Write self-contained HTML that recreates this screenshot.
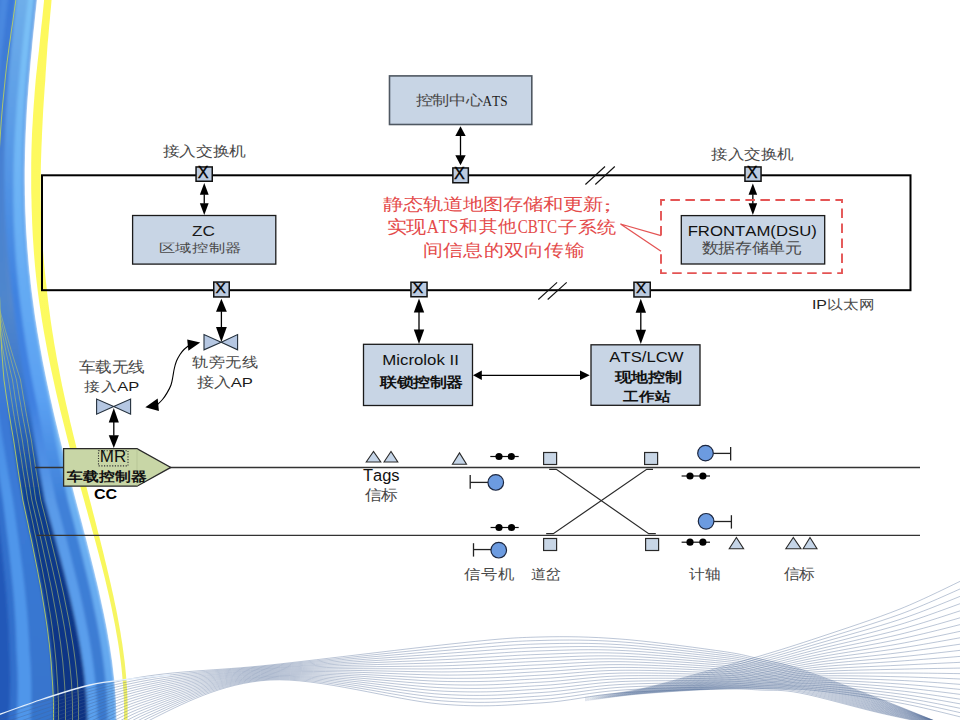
<!DOCTYPE html>
<html><head><meta charset="utf-8"><title>CBTC</title>
<style>
html,body{margin:0;padding:0;background:#fff;width:960px;height:720px;overflow:hidden}
svg{display:block}
.ss{font-family:"Liberation Sans",sans-serif}
.ssb{font-family:"Liberation Sans",sans-serif;font-weight:bold}
.sf{font-family:"Liberation Serif",serif;font-weight:300}
.lsf{font-family:"Liberation Serif",serif;font-weight:normal}
.sfb{font-family:"Liberation Serif",serif;font-weight:bold}
</style></head><body>
<svg width="960" height="720" viewBox="0 0 960 720">
<g><defs><linearGradient id="g0" gradientUnits="userSpaceOnUse" x1="0" y1="0" x2="0" y2="720"><stop offset="0.000" stop-color="#5896e2"/><stop offset="0.417" stop-color="#62a8f2"/><stop offset="0.694" stop-color="#6cb0f2"/><stop offset="1.000" stop-color="#62a6ee"/></linearGradient><linearGradient id="g1" gradientUnits="userSpaceOnUse" x1="0" y1="0" x2="0" y2="720"><stop offset="0.000" stop-color="#7cc2f6"/><stop offset="0.347" stop-color="#68aef4"/><stop offset="0.556" stop-color="#5aa0f2"/><stop offset="0.694" stop-color="#3f80d8"/><stop offset="1.000" stop-color="#3a7ad0"/></linearGradient><linearGradient id="g2" gradientUnits="userSpaceOnUse" x1="0" y1="0" x2="0" y2="720"><stop offset="0.000" stop-color="#6eaeea"/><stop offset="0.417" stop-color="#3f82e0"/><stop offset="0.556" stop-color="#3f80e0"/><stop offset="0.694" stop-color="#5a9ae8"/><stop offset="1.000" stop-color="#5aa0ee"/></linearGradient><linearGradient id="g3" gradientUnits="userSpaceOnUse" x1="0" y1="0" x2="0" y2="720"><stop offset="0.000" stop-color="#3a78d8"/><stop offset="0.417" stop-color="#5488cc"/><stop offset="0.556" stop-color="#3674cc"/><stop offset="0.694" stop-color="#0c3c8c"/><stop offset="1.000" stop-color="#0a3282"/></linearGradient><linearGradient id="g4" gradientUnits="userSpaceOnUse" x1="0" y1="0" x2="0" y2="720"><stop offset="0.000" stop-color="#3a78d8"/><stop offset="0.417" stop-color="#4f86cc"/><stop offset="0.569" stop-color="#3a78d6"/><stop offset="0.694" stop-color="#3a7ad6"/><stop offset="1.000" stop-color="#3674cc"/></linearGradient><linearGradient id="g5" gradientUnits="userSpaceOnUse" x1="0" y1="0" x2="0" y2="720"><stop offset="0.000" stop-color="#4a88e0"/><stop offset="0.417" stop-color="#4a88d8"/><stop offset="0.569" stop-color="#4a8ee4"/><stop offset="0.694" stop-color="#5096ea"/><stop offset="1.000" stop-color="#5096ea"/></linearGradient><linearGradient id="g6" gradientUnits="userSpaceOnUse" x1="0" y1="0" x2="0" y2="720"><stop offset="0.000" stop-color="#3f7ed8"/><stop offset="0.417" stop-color="#3f7ed8"/><stop offset="0.694" stop-color="#3370cc"/><stop offset="1.000" stop-color="#3370cc"/></linearGradient><linearGradient id="g7" gradientUnits="userSpaceOnUse" x1="0" y1="0" x2="0" y2="720"><stop offset="0.000" stop-color="#2f6ecc"/><stop offset="0.694" stop-color="#2458b8"/><stop offset="1.000" stop-color="#2458b8"/></linearGradient><linearGradient id="gy" gradientUnits="userSpaceOnUse" x1="0" y1="0" x2="0" y2="720"><stop offset="0" stop-color="#fdf85c"/><stop offset="0.4" stop-color="#fdfb62"/><stop offset="0.75" stop-color="#f9f85a"/><stop offset="1" stop-color="#f2f26a"/></linearGradient><clipPath id="bandclip"><path d="M-50.0,-10.0 L38.0,-10.0 L37.3,-4.0 L36.7,2.0 L36.1,8.0 L35.4,14.0 L34.8,20.0 L34.2,26.0 L33.5,32.0 L32.9,38.0 L32.3,44.0 L31.8,50.0 L31.2,56.0 L30.6,62.0 L30.1,68.0 L29.6,74.0 L29.1,80.0 L28.6,86.0 L28.2,92.0 L27.7,98.0 L27.3,104.0 L26.9,110.0 L26.6,116.0 L26.3,122.0 L26.0,128.0 L25.7,134.0 L25.5,140.0 L25.3,146.0 L25.1,152.0 L25.0,158.0 L24.9,164.0 L24.8,170.0 L24.8,176.0 L24.8,182.0 L24.9,188.0 L24.9,194.0 L25.1,200.0 L25.2,206.0 L25.4,212.0 L25.7,218.0 L25.9,224.0 L26.2,230.0 L26.6,236.0 L27.0,242.0 L27.4,248.0 L27.9,254.0 L28.4,260.0 L28.9,266.0 L29.5,272.0 L30.2,278.0 L30.8,284.0 L31.5,290.0 L32.3,296.0 L33.1,302.0 L33.9,308.0 L34.7,314.0 L35.6,320.0 L36.6,326.0 L37.5,332.0 L38.6,338.0 L39.6,344.0 L40.7,350.0 L41.8,356.0 L42.9,362.0 L44.1,368.0 L45.3,374.0 L46.5,380.0 L47.8,386.0 L49.1,392.0 L50.4,398.0 L51.8,404.0 L53.1,410.0 L54.5,416.0 L55.9,422.0 L57.4,428.0 L58.8,434.0 L60.3,440.0 L61.8,446.0 L63.3,452.0 L64.9,458.0 L66.4,464.0 L67.9,470.0 L69.5,476.0 L71.1,482.0 L72.7,488.0 L74.2,494.0 L75.8,500.0 L77.4,506.0 L79.0,512.0 L80.6,518.0 L82.2,524.0 L83.7,530.0 L85.3,536.0 L86.9,542.0 L88.4,548.0 L89.9,554.0 L91.4,560.0 L92.9,566.0 L94.4,572.0 L95.8,578.0 L97.3,584.0 L98.7,590.0 L100.0,596.0 L101.3,602.0 L102.6,608.0 L103.9,614.0 L105.1,620.0 L106.3,626.0 L107.4,632.0 L108.4,638.0 L109.5,644.0 L110.4,650.0 L111.3,656.0 L112.2,662.0 L112.9,668.0 L113.6,674.0 L114.3,680.0 L114.8,686.0 L115.3,692.0 L115.7,698.0 L116.1,704.0 L116.3,710.0 L116.4,716.0 L116.5,722.0 L116.4,728.0 L-50.0,730.0Z"/></clipPath><filter id="ysoft" x="-0.5" y="-0.01" width="2" height="1.02"><feGaussianBlur stdDeviation="0.6"/></filter><filter id="soft" x="-0.2" y="-0.05" width="1.4" height="1.1"><feGaussianBlur stdDeviation="1.6"/></filter></defs><g clip-path="url(#bandclip)"><g filter="url(#soft)"><path d="M-50.0,-10.0 L38.0,-10.0 L37.3,-4.0 L36.7,2.0 L36.1,8.0 L35.4,14.0 L34.8,20.0 L34.2,26.0 L33.5,32.0 L32.9,38.0 L32.3,44.0 L31.8,50.0 L31.2,56.0 L30.6,62.0 L30.1,68.0 L29.6,74.0 L29.1,80.0 L28.6,86.0 L28.2,92.0 L27.7,98.0 L27.3,104.0 L26.9,110.0 L26.6,116.0 L26.3,122.0 L26.0,128.0 L25.7,134.0 L25.5,140.0 L25.3,146.0 L25.1,152.0 L25.0,158.0 L24.9,164.0 L24.8,170.0 L24.8,176.0 L24.8,182.0 L24.9,188.0 L24.9,194.0 L25.1,200.0 L25.2,206.0 L25.4,212.0 L25.7,218.0 L25.9,224.0 L26.2,230.0 L26.6,236.0 L27.0,242.0 L27.4,248.0 L27.9,254.0 L28.4,260.0 L28.9,266.0 L29.5,272.0 L30.2,278.0 L30.8,284.0 L31.5,290.0 L32.3,296.0 L33.1,302.0 L33.9,308.0 L34.7,314.0 L35.6,320.0 L36.6,326.0 L37.5,332.0 L38.6,338.0 L39.6,344.0 L40.7,350.0 L41.8,356.0 L42.9,362.0 L44.1,368.0 L45.3,374.0 L46.5,380.0 L47.8,386.0 L49.1,392.0 L50.4,398.0 L51.8,404.0 L53.1,410.0 L54.5,416.0 L55.9,422.0 L57.4,428.0 L58.8,434.0 L60.3,440.0 L61.8,446.0 L63.3,452.0 L64.9,458.0 L66.4,464.0 L67.9,470.0 L69.5,476.0 L71.1,482.0 L72.7,488.0 L74.2,494.0 L75.8,500.0 L77.4,506.0 L79.0,512.0 L80.6,518.0 L82.2,524.0 L83.7,530.0 L85.3,536.0 L86.9,542.0 L88.4,548.0 L89.9,554.0 L91.4,560.0 L92.9,566.0 L94.4,572.0 L95.8,578.0 L97.3,584.0 L98.7,590.0 L100.0,596.0 L101.3,602.0 L102.6,608.0 L103.9,614.0 L105.1,620.0 L106.3,626.0 L107.4,632.0 L108.4,638.0 L109.5,644.0 L110.4,650.0 L111.3,656.0 L112.2,662.0 L112.9,668.0 L113.6,674.0 L114.3,680.0 L114.8,686.0 L115.3,692.0 L115.7,698.0 L116.1,704.0 L116.3,710.0 L116.4,716.0 L116.5,722.0 L116.4,728.0 L-50.0,730.0Z" fill="url(#g0)"/><path d="M-50.0,-10.0 L35.0,-10.0 L34.3,-4.0 L33.7,2.0 L33.1,8.0 L32.4,14.0 L31.8,20.0 L31.2,26.0 L30.5,32.0 L29.9,38.0 L29.3,44.0 L28.8,50.0 L28.2,56.0 L27.6,62.0 L27.1,68.0 L26.6,74.0 L26.1,80.0 L25.6,86.0 L25.2,92.0 L24.7,98.0 L24.3,104.0 L23.9,110.0 L23.6,116.0 L23.3,122.0 L23.0,128.0 L22.7,134.0 L22.5,140.0 L22.3,146.0 L22.1,152.0 L22.0,158.0 L21.9,164.0 L21.8,170.0 L21.8,176.0 L21.8,182.0 L21.9,188.0 L21.9,194.0 L22.1,200.0 L22.2,206.0 L22.4,212.0 L22.7,218.0 L22.9,224.0 L23.2,230.0 L23.6,236.0 L24.0,242.0 L24.4,248.0 L24.9,254.0 L25.4,260.0 L25.9,266.0 L26.5,272.0 L27.2,278.0 L27.8,284.0 L28.5,290.0 L29.3,296.0 L30.1,302.0 L30.9,308.0 L31.7,314.0 L32.6,320.0 L33.6,326.0 L34.5,332.0 L35.6,338.0 L36.6,344.0 L37.7,350.0 L38.8,356.0 L39.9,362.0 L41.1,368.0 L42.3,374.0 L43.5,380.0 L44.8,386.0 L46.1,392.0 L47.4,398.0 L48.8,404.0 L50.1,410.0 L51.2,416.0 L52.3,422.0 L53.4,428.0 L54.5,434.0 L55.6,440.0 L56.8,446.0 L58.0,452.0 L59.2,458.0 L60.4,464.0 L61.6,470.0 L62.8,476.0 L64.1,482.0 L65.3,488.0 L66.6,494.0 L67.8,500.0 L69.4,506.0 L70.9,512.0 L72.5,518.0 L74.1,524.0 L75.6,530.0 L77.1,536.0 L78.7,542.0 L80.2,548.0 L81.7,554.0 L83.2,560.0 L84.6,566.0 L86.1,572.0 L87.5,578.0 L88.9,584.0 L90.3,590.0 L91.6,596.0 L92.9,602.0 L94.1,608.0 L95.4,614.0 L96.6,620.0 L97.7,626.0 L98.8,632.0 L99.8,638.0 L100.8,644.0 L101.7,650.0 L102.6,656.0 L103.4,662.0 L104.2,668.0 L104.9,674.0 L105.5,680.0 L106.0,686.0 L106.5,692.0 L106.8,698.0 L107.1,704.0 L107.3,710.0 L107.5,716.0 L107.5,722.0 L107.4,728.0 L-50.0,730.0Z" fill="url(#g1)"/><path d="M-50.0,-10.0 L29.0,-10.0 L28.3,-4.0 L27.7,2.0 L27.0,8.0 L26.2,14.0 L25.5,20.0 L24.8,26.0 L24.1,32.0 L23.4,38.0 L22.8,44.0 L22.1,50.0 L21.4,56.0 L20.8,62.0 L20.2,68.0 L19.6,74.0 L19.0,80.0 L18.5,86.0 L17.9,92.0 L17.4,98.0 L16.9,104.0 L16.5,110.0 L16.1,116.0 L15.7,122.0 L15.3,128.0 L14.9,134.0 L14.6,140.0 L14.3,146.0 L14.1,152.0 L13.9,158.0 L13.7,164.0 L13.6,170.0 L13.5,176.0 L13.4,182.0 L13.4,188.0 L13.4,194.0 L13.4,200.0 L13.5,206.0 L13.6,212.0 L13.7,218.0 L13.9,224.0 L14.2,230.0 L14.4,236.0 L14.8,242.0 L15.1,248.0 L15.5,254.0 L15.9,260.0 L16.4,266.0 L16.9,272.0 L17.5,278.0 L18.0,284.0 L18.7,290.0 L19.3,296.0 L20.0,302.0 L20.7,308.0 L21.5,314.0 L22.3,320.0 L23.1,326.0 L24.0,332.0 L24.9,338.0 L25.8,344.0 L26.8,350.0 L27.8,356.0 L28.8,362.0 L29.9,368.0 L30.9,374.0 L32.1,380.0 L33.2,386.0 L34.4,392.0 L35.6,398.0 L36.9,404.0 L38.1,410.0 L39.2,416.0 L40.3,422.0 L41.4,428.0 L42.5,434.0 L43.6,440.0 L44.8,446.0 L46.0,452.0 L47.2,458.0 L48.4,464.0 L49.6,470.0 L50.8,476.0 L52.1,482.0 L53.3,488.0 L54.6,494.0 L55.8,500.0 L57.4,506.0 L59.1,512.0 L60.7,518.0 L62.3,524.0 L63.9,530.0 L65.5,536.0 L67.1,542.0 L68.6,548.0 L70.2,554.0 L71.7,560.0 L73.2,566.0 L74.7,572.0 L76.2,578.0 L77.7,584.0 L79.1,590.0 L80.5,596.0 L81.8,602.0 L83.1,608.0 L84.4,614.0 L85.6,620.0 L86.8,626.0 L88.0,632.0 L89.1,638.0 L90.1,644.0 L91.1,650.0 L92.0,656.0 L92.9,662.0 L93.7,668.0 L94.4,674.0 L95.1,680.0 L95.7,686.0 L96.2,692.0 L96.6,698.0 L97.0,704.0 L97.3,710.0 L97.4,716.0 L97.5,722.0 L97.4,728.0 L-50.0,730.0Z" fill="url(#g2)"/><path d="M-50.0,-10.0 L17.0,-10.0 L16.3,-4.0 L15.7,2.0 L15.1,8.0 L14.5,14.0 L13.9,20.0 L13.2,26.0 L12.7,32.0 L12.1,38.0 L11.5,44.0 L10.9,50.0 L10.4,56.0 L9.8,62.0 L9.3,68.0 L8.8,74.0 L8.4,80.0 L7.9,86.0 L7.5,92.0 L7.1,98.0 L6.7,104.0 L6.3,110.0 L6.0,116.0 L5.7,122.0 L5.4,128.0 L5.2,134.0 L5.0,140.0 L4.8,146.0 L4.6,152.0 L4.5,158.0 L4.4,164.0 L4.4,170.0 L4.4,176.0 L4.4,182.0 L4.5,188.0 L4.6,194.0 L4.7,200.0 L4.9,206.0 L5.1,212.0 L5.4,218.0 L5.7,224.0 L6.0,230.0 L6.4,236.0 L6.8,242.0 L7.2,248.0 L7.7,254.0 L8.3,260.0 L8.8,266.0 L9.4,272.0 L10.1,278.0 L10.8,284.0 L11.5,290.0 L12.3,296.0 L13.0,302.0 L13.7,308.0 L14.4,314.0 L15.1,320.0 L15.9,326.0 L16.7,332.0 L17.5,338.0 L18.4,344.0 L19.3,350.0 L20.2,356.0 L21.2,362.0 L22.2,368.0 L23.3,374.0 L24.3,380.0 L25.4,386.0 L26.6,392.0 L27.7,398.0 L28.9,404.0 L30.1,410.0 L31.0,416.0 L31.9,422.0 L32.8,428.0 L33.7,434.0 L34.6,440.0 L35.6,446.0 L36.6,452.0 L37.6,458.0 L38.6,464.0 L39.6,470.0 L40.6,476.0 L41.7,482.0 L42.7,488.0 L43.8,494.0 L44.8,500.0 L46.5,506.0 L48.1,512.0 L49.7,518.0 L51.4,524.0 L53.0,530.0 L54.6,536.0 L56.2,542.0 L57.8,548.0 L59.4,554.0 L61.0,560.0 L62.5,566.0 L64.1,572.0 L65.6,578.0 L67.0,584.0 L68.5,590.0 L69.9,596.0 L71.3,602.0 L72.6,608.0 L73.9,614.0 L75.2,620.0 L76.4,626.0 L77.6,632.0 L78.7,638.0 L79.8,644.0 L80.8,650.0 L81.7,656.0 L82.6,662.0 L83.5,668.0 L84.2,674.0 L84.9,680.0 L85.5,686.0 L86.1,692.0 L86.5,698.0 L86.9,704.0 L87.2,710.0 L87.4,716.0 L87.5,722.0 L87.4,728.0 L-50.0,730.0Z" fill="url(#g3)"/><path d="M-50.0,-10.0 L16.5,-10.0 L15.8,-4.0 L15.2,2.0 L14.5,8.0 L13.8,14.0 L13.1,20.0 L12.4,26.0 L11.8,32.0 L11.1,38.0 L10.5,44.0 L9.8,50.0 L9.2,56.0 L8.6,62.0 L8.0,68.0 L7.5,74.0 L6.9,80.0 L6.4,86.0 L5.9,92.0 L5.4,98.0 L5.0,104.0 L4.5,110.0 L4.1,116.0 L3.8,122.0 L3.4,128.0 L3.1,134.0 L2.8,140.0 L2.6,146.0 L2.4,152.0 L2.2,158.0 L2.0,164.0 L1.9,170.0 L1.8,176.0 L1.8,182.0 L1.8,188.0 L1.8,194.0 L1.9,200.0 L2.0,206.0 L2.1,212.0 L2.3,218.0 L2.6,224.0 L2.8,230.0 L3.1,236.0 L3.5,242.0 L3.8,248.0 L4.3,254.0 L4.7,260.0 L5.2,266.0 L5.8,272.0 L6.3,278.0 L7.0,284.0 L7.6,290.0 L8.3,296.0 L8.7,302.0 L8.4,308.0 L8.1,314.0 L7.8,320.0 L7.6,326.0 L7.4,332.0 L7.3,338.0 L7.2,344.0 L7.1,350.0 L7.1,356.0 L7.1,362.0 L7.1,368.0 L7.2,374.0 L7.3,380.0 L7.4,386.0 L7.5,392.0 L7.7,398.0 L7.9,404.0 L8.1,410.0 L9.0,416.0 L9.9,422.0 L10.8,428.0 L11.7,434.0 L12.6,440.0 L13.6,446.0 L14.6,452.0 L15.6,458.0 L16.6,464.0 L17.6,470.0 L18.6,476.0 L19.7,482.0 L20.7,488.0 L21.8,494.0 L22.8,500.0 L24.1,506.0 L25.5,512.0 L26.8,518.0 L28.1,524.0 L29.4,530.0 L30.7,536.0 L32.0,542.0 L33.2,548.0 L34.5,554.0 L35.7,560.0 L36.9,566.0 L38.1,572.0 L39.3,578.0 L40.5,584.0 L41.6,590.0 L42.7,596.0 L43.7,602.0 L44.7,608.0 L45.7,614.0 L46.6,620.0 L47.5,626.0 L48.4,632.0 L49.2,638.0 L49.9,644.0 L50.6,650.0 L51.2,656.0 L51.8,662.0 L52.3,668.0 L52.7,674.0 L53.1,680.0 L53.4,686.0 L53.6,692.0 L53.7,698.0 L53.8,704.0 L53.8,710.0 L53.6,716.0 L53.5,722.0 L53.4,728.0 L-50.0,730.0Z" fill="url(#g4)"/><path d="M-50.0,-10.0 L9.0,-10.0 L8.3,-4.0 L7.7,2.0 L7.0,8.0 L6.2,14.0 L5.5,20.0 L4.8,26.0 L4.1,32.0 L3.4,38.0 L2.8,44.0 L2.1,50.0 L1.4,56.0 L0.8,62.0 L0.2,68.0 L-0.4,74.0 L-1.0,80.0 L-1.5,86.0 L-2.1,92.0 L-2.6,98.0 L-3.1,104.0 L-3.5,110.0 L-3.9,116.0 L-4.3,122.0 L-4.7,128.0 L-5.1,134.0 L-5.4,140.0 L-5.7,146.0 L-5.9,152.0 L-6.1,158.0 L-6.3,164.0 L-6.4,170.0 L-6.5,176.0 L-6.6,182.0 L-6.6,188.0 L-6.6,194.0 L-6.6,200.0 L-6.5,206.0 L-6.4,212.0 L-6.3,218.0 L-6.1,224.0 L-5.8,230.0 L-5.6,236.0 L-5.2,242.0 L-4.9,248.0 L-4.5,254.0 L-4.1,260.0 L-3.6,266.0 L-3.1,272.0 L-2.5,278.0 L-2.0,284.0 L-1.3,290.0 L-0.7,296.0 L-0.3,302.0 L-0.7,308.0 L-1.1,314.0 L-1.4,320.0 L-1.6,326.0 L-1.9,332.0 L-2.0,338.0 L-2.2,344.0 L-2.3,350.0 L-2.4,356.0 L-2.5,362.0 L-2.5,368.0 L-2.5,374.0 L-2.5,380.0 L-2.4,386.0 L-2.3,392.0 L-2.2,398.0 L-2.0,404.0 L-1.9,410.0 L-1.0,416.0 L-0.1,422.0 L0.8,428.0 L1.7,434.0 L2.6,440.0 L3.6,446.0 L4.6,452.0 L5.6,458.0 L6.6,464.0 L7.6,470.0 L8.6,476.0 L9.7,482.0 L10.7,488.0 L11.8,494.0 L12.8,500.0 L13.7,506.0 L14.6,512.0 L15.4,518.0 L16.3,524.0 L17.1,530.0 L18.0,536.0 L18.8,542.0 L19.6,548.0 L20.4,554.0 L21.2,560.0 L22.0,566.0 L22.8,572.0 L23.5,578.0 L24.2,584.0 L24.9,590.0 L25.5,596.0 L26.1,602.0 L26.7,608.0 L27.2,614.0 L27.7,620.0 L28.1,626.0 L28.5,632.0 L28.9,638.0 L29.2,644.0 L29.4,650.0 L29.9,656.0 L30.3,662.0 L30.7,668.0 L30.9,674.0 L31.1,680.0 L31.3,686.0 L31.3,692.0 L31.3,698.0 L31.2,704.0 L31.0,710.0 L30.7,716.0 L30.5,722.0 L30.4,728.0 L-50.0,730.0Z" fill="url(#g5)"/><path d="M-50.0,-10.0 L2.0,-10.0 L1.3,-4.0 L0.7,2.0 L-0.0,8.0 L-0.8,14.0 L-1.5,20.0 L-2.2,26.0 L-2.9,32.0 L-3.6,38.0 L-4.2,44.0 L-4.9,50.0 L-5.6,56.0 L-6.2,62.0 L-6.8,68.0 L-7.4,74.0 L-8.0,80.0 L-8.5,86.0 L-9.1,92.0 L-9.6,98.0 L-10.1,104.0 L-10.5,110.0 L-10.9,116.0 L-11.3,122.0 L-11.7,128.0 L-12.1,134.0 L-12.4,140.0 L-12.7,146.0 L-12.9,152.0 L-13.1,158.0 L-13.3,164.0 L-13.4,170.0 L-13.5,176.0 L-13.6,182.0 L-13.6,188.0 L-13.6,194.0 L-13.6,200.0 L-13.5,206.0 L-13.4,212.0 L-13.3,218.0 L-13.1,224.0 L-12.8,230.0 L-12.6,236.0 L-12.2,242.0 L-11.9,248.0 L-11.5,254.0 L-11.1,260.0 L-10.6,266.0 L-10.1,272.0 L-9.5,278.0 L-9.0,284.0 L-8.3,290.0 L-7.7,296.0 L-7.4,302.0 L-7.8,308.0 L-8.2,314.0 L-8.5,320.0 L-8.9,326.0 L-9.1,332.0 L-9.4,338.0 L-9.6,344.0 L-9.8,350.0 L-9.9,356.0 L-10.0,362.0 L-10.1,368.0 L-10.2,374.0 L-10.2,380.0 L-10.2,386.0 L-10.2,392.0 L-10.1,398.0 L-10.0,404.0 L-9.9,410.0 L-9.2,416.0 L-8.4,422.0 L-7.6,428.0 L-6.8,434.0 L-6.0,440.0 L-5.2,446.0 L-4.3,452.0 L-3.5,458.0 L-2.6,464.0 L-1.7,470.0 L-0.8,476.0 L0.1,482.0 L1.0,488.0 L1.9,494.0 L2.8,500.0 L3.6,506.0 L4.3,512.0 L5.1,518.0 L5.8,524.0 L6.5,530.0 L7.3,536.0 L8.0,542.0 L8.7,548.0 L9.4,554.0 L10.0,560.0 L10.7,566.0 L11.3,572.0 L11.9,578.0 L12.5,584.0 L13.1,590.0 L13.6,596.0 L14.1,602.0 L14.5,608.0 L14.9,614.0 L15.3,620.0 L15.6,626.0 L15.9,632.0 L16.1,638.0 L16.3,644.0 L16.4,650.0 L16.8,656.0 L17.1,662.0 L17.4,668.0 L17.6,674.0 L17.7,680.0 L17.8,686.0 L17.7,692.0 L17.6,698.0 L17.4,704.0 L17.2,710.0 L16.8,716.0 L16.5,722.0 L16.4,728.0 L-50.0,730.0Z" fill="url(#g6)"/><path d="M-50.0,-10.0 L-6.0,-10.0 L-6.7,-4.0 L-7.3,2.0 L-8.0,8.0 L-8.8,14.0 L-9.5,20.0 L-10.2,26.0 L-10.9,32.0 L-11.6,38.0 L-12.2,44.0 L-12.9,50.0 L-13.6,56.0 L-14.2,62.0 L-14.8,68.0 L-15.4,74.0 L-16.0,80.0 L-16.5,86.0 L-17.1,92.0 L-17.6,98.0 L-18.1,104.0 L-18.5,110.0 L-18.9,116.0 L-19.3,122.0 L-19.7,128.0 L-20.1,134.0 L-20.4,140.0 L-20.7,146.0 L-20.9,152.0 L-21.1,158.0 L-21.3,164.0 L-21.4,170.0 L-21.5,176.0 L-21.6,182.0 L-21.6,188.0 L-21.6,194.0 L-21.6,200.0 L-21.5,206.0 L-21.4,212.0 L-21.3,218.0 L-21.1,224.0 L-20.8,230.0 L-20.6,236.0 L-20.2,242.0 L-19.9,248.0 L-19.5,254.0 L-19.1,260.0 L-18.6,266.0 L-18.1,272.0 L-17.5,278.0 L-17.0,284.0 L-16.3,290.0 L-15.7,296.0 L-15.3,302.0 L-15.7,308.0 L-16.1,314.0 L-16.4,320.0 L-16.6,326.0 L-16.9,332.0 L-17.0,338.0 L-17.2,344.0 L-17.3,350.0 L-17.4,356.0 L-17.5,362.0 L-17.5,368.0 L-17.5,374.0 L-17.5,380.0 L-17.4,386.0 L-17.3,392.0 L-17.2,398.0 L-17.0,404.0 L-16.9,410.0 L-16.2,416.0 L-15.4,422.0 L-14.6,428.0 L-13.8,434.0 L-13.0,440.0 L-12.2,446.0 L-11.3,452.0 L-10.5,458.0 L-9.6,464.0 L-8.7,470.0 L-7.8,476.0 L-6.9,482.0 L-6.0,488.0 L-5.1,494.0 L-4.2,500.0 L-3.4,506.0 L-2.7,512.0 L-1.9,518.0 L-1.2,524.0 L-0.5,530.0 L0.3,536.0 L1.0,542.0 L1.7,548.0 L2.4,554.0 L3.0,560.0 L3.7,566.0 L4.3,572.0 L4.9,578.0 L5.5,584.0 L6.1,590.0 L6.6,596.0 L7.1,602.0 L7.5,608.0 L7.9,614.0 L8.3,620.0 L8.6,626.0 L8.9,632.0 L9.1,638.0 L9.3,644.0 L9.4,650.0 L9.7,656.0 L10.0,662.0 L10.1,668.0 L10.2,674.0 L10.3,680.0 L10.2,686.0 L10.1,692.0 L9.9,698.0 L9.7,704.0 L9.3,710.0 L8.8,716.0 L8.5,722.0 L8.4,728.0 L-50.0,730.0Z" fill="url(#g7)"/></g><path d="M17.0,-10.0 L16.3,-4.0 L15.6,2.0 L14.7,8.0 L13.8,14.0 L13.0,20.0 L12.1,26.0 L11.2,32.0 L10.4,38.0 L9.5,44.0 L8.7,50.0 L7.9,56.0 L7.1,62.0 L6.4,68.0 L5.7,74.0 L5.1,80.0 L4.5,86.0 L3.9,92.0 L3.3,98.0 L2.7,104.0 L2.2,110.0 L1.7,116.0 L1.2,122.0 L0.8,128.0 L0.4,134.0 L-0.0,140.0 L-0.4,146.0 L-0.7,152.0 L-1.0,158.0 L-1.2,164.0 L-1.4,170.0 L-1.6,176.0 L-1.7,182.0 L-1.8,188.0 L-1.9,194.0 L-1.9,200.0 L-2.1,206.0 L-2.3,212.0 L-2.4,218.0 L-2.5,224.0 L-2.6,230.0 L-2.6,236.0 L-2.5,242.0 L-2.5,248.0 L-2.4,254.0 L-2.2,260.0 L-2.0,266.0 L-1.8,272.0 L-1.5,278.0 L-1.2,284.0 L-0.9,290.0 L-0.5,296.0 L-0.2,302.0 L-0.1,308.0 L0.1,314.0 L0.3,320.0 L0.5,326.0 L0.7,332.0 L1.0,338.0 L1.4,344.0 L1.7,350.0 L2.1,356.0 L2.6,362.0 L3.0,368.0 L3.5,374.0 L4.0,380.0 L4.9,386.0 L5.7,392.0 L6.6,398.0 L7.6,404.0 L8.5,410.0 L9.5,416.0 L10.5,422.0 L11.5,428.0 L12.6,434.0 L13.6,440.0 L14.5,446.0 L15.4,452.0 L16.3,458.0 L17.2,464.0 L18.1,470.0 L19.0,476.0 L20.0,482.0 L20.9,488.0 L21.9,494.0 L22.8,500.0 L24.1,506.0 L25.4,512.0 L26.7,518.0 L28.0,524.0 L29.2,530.0 L30.5,536.0 L31.8,542.0 L33.0,548.0 L34.2,554.0 L35.4,560.0 L36.6,566.0 L37.8,572.0 L38.9,578.0 L40.1,584.0 L41.2,590.0 L42.2,596.0 L43.2,602.0 L44.2,608.0 L45.2,614.0 L46.1,620.0 L47.0,626.0 L47.8,632.0 L48.5,638.0 L49.3,644.0 L49.9,650.0 L50.5,656.0 L51.1,662.0 L51.5,668.0 L51.9,674.0 L52.3,680.0 L52.7,686.0 L53.0,692.0 L53.3,698.0 L53.5,704.0 L53.5,710.0 L53.5,716.0 L53.5,722.0 L53.4,728.0" fill="none" stroke="#c8d850" stroke-width="0.8"/><path d="M-8.0,-10.0 L-8.7,-4.0 L-9.2,2.0 L-9.7,8.0 L-10.2,14.0 L-10.6,20.0 L-11.1,26.0 L-11.5,32.0 L-11.9,38.0 L-12.3,44.0 L-12.7,50.0 L-13.1,56.0 L-13.5,62.0 L-13.9,68.0 L-14.2,74.0 L-14.5,80.0 L-14.8,86.0 L-15.1,92.0 L-15.3,98.0 L-15.6,104.0 L-15.8,110.0 L-15.9,116.0 L-16.1,122.0 L-16.2,128.0 L-16.3,134.0 L-16.3,140.0 L-16.3,146.0 L-16.3,152.0 L-16.3,158.0 L-16.2,164.0 L-16.1,170.0 L-15.9,176.0 L-15.7,182.0 L-15.5,188.0 L-15.2,194.0 L-14.9,200.0 L-14.6,206.0 L-14.2,212.0 L-13.8,218.0 L-13.4,224.0 L-12.9,230.0 L-12.3,236.0 L-11.8,242.0 L-11.1,248.0 L-10.5,254.0 L-9.8,260.0 L-9.1,266.0 L-8.3,272.0 L-7.5,278.0 L-6.7,284.0 L-5.8,290.0 L-4.8,296.0 L-4.0,302.0 L-3.2,308.0 L-2.4,314.0 L-1.6,320.0 L-0.7,326.0 L0.1,332.0 L1.1,338.0 L2.0,344.0 L3.0,350.0 L4.1,356.0 L5.1,362.0 L6.2,368.0 L7.4,374.0 L8.5,380.0 L9.4,386.0 L10.3,392.0 L11.2,398.0 L12.2,404.0 L13.1,410.0 L14.1,416.0 L15.1,422.0 L16.2,428.0 L17.2,434.0 L18.3,440.0 L19.2,446.0 L20.1,452.0 L21.1,458.0 L22.0,464.0 L22.9,470.0 L23.9,476.0 L24.9,482.0 L25.9,488.0 L26.8,494.0 L27.8,500.0 L29.1,506.0 L30.4,512.0 L31.7,518.0 L33.0,524.0 L34.2,530.0 L35.5,536.0 L36.8,542.0 L38.0,548.0 L39.2,554.0 L40.4,560.0 L41.6,566.0 L42.8,572.0 L43.9,578.0 L45.1,584.0 L46.2,590.0 L47.2,596.0 L48.2,602.0 L49.2,608.0 L50.2,614.0 L51.1,620.0 L52.0,626.0 L52.8,632.0 L53.5,638.0 L54.3,644.0 L54.9,650.0 L55.5,656.0 L56.1,662.0 L56.5,668.0 L56.9,674.0 L57.3,680.0 L57.7,686.0 L58.0,692.0 L58.3,698.0 L58.5,704.0 L58.5,710.0 L58.5,716.0 L58.5,722.0 L58.4,728.0" fill="none" stroke="#b0c070" stroke-width="0.6"/><path d="M-6.0,-10.0 L-6.7,-4.0 L-7.3,2.0 L-7.7,8.0 L-8.2,14.0 L-8.7,20.0 L-9.2,26.0 L-9.7,32.0 L-10.1,38.0 L-10.6,44.0 L-11.0,50.0 L-11.4,56.0 L-11.8,62.0 L-12.2,68.0 L-12.6,74.0 L-12.9,80.0 L-13.2,86.0 L-13.5,92.0 L-13.8,98.0 L-14.1,104.0 L-14.3,110.0 L-14.5,116.0 L-14.7,122.0 L-14.8,128.0 L-14.9,134.0 L-15.0,140.0 L-15.1,146.0 L-15.1,152.0 L-15.1,158.0 L-15.0,164.0 L-14.9,170.0 L-14.8,176.0 L-14.6,182.0 L-14.4,188.0 L-14.2,194.0 L-13.9,200.0 L-13.6,206.0 L-13.3,212.0 L-12.9,218.0 L-12.5,224.0 L-12.0,230.0 L-11.5,236.0 L-11.0,242.0 L-10.4,248.0 L-9.8,254.0 L-9.1,260.0 L-8.4,266.0 L-7.7,272.0 L-6.9,278.0 L-6.1,284.0 L-5.2,290.0 L-4.3,296.0 L-3.4,302.0 L-2.4,308.0 L-1.3,314.0 L-0.2,320.0 L0.9,326.0 L2.0,332.0 L3.2,338.0 L4.5,344.0 L5.7,350.0 L7.0,356.0 L8.4,362.0 L9.7,368.0 L11.1,374.0 L12.5,380.0 L13.4,386.0 L14.3,392.0 L15.2,398.0 L16.2,404.0 L17.1,410.0 L18.1,416.0 L19.1,422.0 L20.2,428.0 L21.2,434.0 L22.3,440.0 L23.2,446.0 L24.1,452.0 L25.1,458.0 L26.0,464.0 L26.9,470.0 L27.9,476.0 L28.9,482.0 L29.9,488.0 L30.8,494.0 L31.8,500.0 L33.2,506.0 L34.6,512.0 L36.0,518.0 L37.4,524.0 L38.7,530.0 L40.1,536.0 L41.5,542.0 L42.8,548.0 L44.1,554.0 L45.4,560.0 L46.7,566.0 L48.0,572.0 L49.2,578.0 L50.5,584.0 L51.7,590.0 L52.8,596.0 L53.9,602.0 L55.0,608.0 L56.1,614.0 L57.1,620.0 L58.1,626.0 L59.0,632.0 L59.8,638.0 L60.7,644.0 L61.4,650.0 L62.1,656.0 L62.8,662.0 L63.3,668.0 L63.8,674.0 L64.3,680.0 L64.7,686.0 L65.0,692.0 L65.3,698.0 L65.5,704.0 L65.5,710.0 L65.5,716.0 L65.5,722.0 L65.4,728.0" fill="none" stroke="#b0c070" stroke-width="0.6"/><path d="M-4.0,-10.0 L-4.7,-4.0 L-5.3,2.0 L-5.8,8.0 L-6.3,14.0 L-6.8,20.0 L-7.3,26.0 L-7.8,32.0 L-8.3,38.0 L-8.8,44.0 L-9.2,50.0 L-9.7,56.0 L-10.1,62.0 L-10.5,68.0 L-10.9,74.0 L-11.3,80.0 L-11.7,86.0 L-12.0,92.0 L-12.3,98.0 L-12.6,104.0 L-12.9,110.0 L-13.1,116.0 L-13.3,122.0 L-13.5,128.0 L-13.6,134.0 L-13.7,140.0 L-13.8,146.0 L-13.8,152.0 L-13.8,158.0 L-13.8,164.0 L-13.8,170.0 L-13.7,176.0 L-13.5,182.0 L-13.4,188.0 L-13.2,194.0 L-12.9,200.0 L-12.7,206.0 L-12.3,212.0 L-12.0,218.0 L-11.6,224.0 L-11.2,230.0 L-10.7,236.0 L-10.2,242.0 L-9.6,248.0 L-9.0,254.0 L-8.4,260.0 L-7.7,266.0 L-7.0,272.0 L-6.3,278.0 L-5.5,284.0 L-4.7,290.0 L-3.8,296.0 L-2.8,302.0 L-1.5,308.0 L-0.2,314.0 L1.1,320.0 L2.5,326.0 L3.9,332.0 L5.4,338.0 L6.9,344.0 L8.4,350.0 L10.0,356.0 L11.6,362.0 L13.2,368.0 L14.8,374.0 L16.5,380.0 L17.5,386.0 L18.5,392.0 L19.5,398.0 L20.6,404.0 L21.6,410.0 L22.7,416.0 L23.8,422.0 L25.0,428.0 L26.1,434.0 L27.3,440.0 L28.1,446.0 L28.9,452.0 L29.8,458.0 L30.6,464.0 L31.4,470.0 L32.3,476.0 L33.2,482.0 L34.1,488.0 L34.9,494.0 L35.8,500.0 L37.3,506.0 L38.8,512.0 L40.3,518.0 L41.8,524.0 L43.2,530.0 L44.7,536.0 L46.2,542.0 L47.6,548.0 L49.0,554.0 L50.4,560.0 L51.8,566.0 L53.2,572.0 L54.5,578.0 L55.9,584.0 L57.2,590.0 L58.4,596.0 L59.6,602.0 L60.8,608.0 L62.0,614.0 L63.1,620.0 L64.2,626.0 L65.2,632.0 L66.1,638.0 L67.1,644.0 L67.9,650.0 L68.7,656.0 L69.5,662.0 L70.1,668.0 L70.7,674.0 L71.3,680.0 L71.7,686.0 L72.0,692.0 L72.3,698.0 L72.5,704.0 L72.5,710.0 L72.5,716.0 L72.5,722.0 L72.4,728.0" fill="none" stroke="#b0c070" stroke-width="0.6"/><path d="M-2.0,-10.0 L-2.7,-4.0 L-3.3,2.0 L-3.8,8.0 L-4.4,14.0 L-4.9,20.0 L-5.4,26.0 L-6.0,32.0 L-6.5,38.0 L-7.0,44.0 L-7.5,50.0 L-8.0,56.0 L-8.4,62.0 L-8.9,68.0 L-9.3,74.0 L-9.7,80.0 L-10.1,86.0 L-10.5,92.0 L-10.8,98.0 L-11.1,104.0 L-11.4,110.0 L-11.7,116.0 L-11.9,122.0 L-12.1,128.0 L-12.3,134.0 L-12.4,140.0 L-12.5,146.0 L-12.6,152.0 L-12.6,158.0 L-12.6,164.0 L-12.6,170.0 L-12.6,176.0 L-12.5,182.0 L-12.3,188.0 L-12.1,194.0 L-11.9,200.0 L-11.7,206.0 L-11.4,212.0 L-11.1,218.0 L-10.7,224.0 L-10.3,230.0 L-9.9,236.0 L-9.4,242.0 L-8.9,248.0 L-8.3,254.0 L-7.7,260.0 L-7.1,266.0 L-6.4,272.0 L-5.7,278.0 L-4.9,284.0 L-4.1,290.0 L-3.3,296.0 L-2.2,302.0 L-0.7,308.0 L0.9,314.0 L2.5,320.0 L4.2,326.0 L5.8,332.0 L7.6,338.0 L9.3,344.0 L11.1,350.0 L12.9,356.0 L14.8,362.0 L16.7,368.0 L18.6,374.0 L20.5,380.0 L21.5,386.0 L22.5,392.0 L23.5,398.0 L24.6,404.0 L25.6,410.0 L26.7,416.0 L27.8,422.0 L29.0,428.0 L30.1,434.0 L31.3,440.0 L32.2,446.0 L33.1,452.0 L34.1,458.0 L35.0,464.0 L35.9,470.0 L36.9,476.0 L37.9,482.0 L38.9,488.0 L39.8,494.0 L40.8,500.0 L42.3,506.0 L43.9,512.0 L45.4,518.0 L46.9,524.0 L48.4,530.0 L49.9,536.0 L51.4,542.0 L52.9,548.0 L54.3,554.0 L55.8,560.0 L57.2,566.0 L58.6,572.0 L60.0,578.0 L61.3,584.0 L62.7,590.0 L64.0,596.0 L65.2,602.0 L66.4,608.0 L67.6,614.0 L68.8,620.0 L69.9,626.0 L70.9,632.0 L71.9,638.0 L72.9,644.0 L73.8,650.0 L74.6,656.0 L75.4,662.0 L76.1,668.0 L76.7,674.0 L77.3,680.0 L77.7,686.0 L78.0,692.0 L78.3,698.0 L78.5,704.0 L78.5,710.0 L78.5,716.0 L78.5,722.0 L78.4,728.0" fill="none" stroke="#b0c070" stroke-width="0.6"/></g><path d="M45.0,-10.0 L44.4,-4.0 L43.9,2.0 L43.3,8.0 L42.7,14.0 L42.1,20.0 L41.4,26.0 L40.8,32.0 L40.2,38.0 L39.6,44.0 L39.0,50.0 L38.3,56.0 L37.6,62.0 L37.0,68.0 L36.3,74.0 L35.7,80.0 L35.2,86.0 L34.7,92.0 L34.3,98.0 L33.8,104.0 L33.4,110.0 L33.0,116.0 L32.7,122.0 L32.3,128.0 L32.0,134.0 L31.8,140.0 L31.6,146.0 L31.4,152.0 L31.3,158.0 L31.2,164.0 L31.2,170.0 L31.2,176.0 L31.2,182.0 L31.2,188.0 L31.3,194.0 L31.5,200.0 L31.6,206.0 L31.8,212.0 L32.0,218.0 L32.2,224.0 L32.5,230.0 L32.8,236.0 L33.2,242.0 L33.6,248.0 L34.0,254.0 L34.5,260.0 L35.0,266.0 L35.6,272.0 L36.2,278.0 L36.9,284.0 L37.6,290.0 L38.4,296.0 L39.2,302.0 L40.1,308.0 L41.0,314.0 L41.9,320.0 L42.9,326.0 L43.9,332.0 L45.0,338.0 L46.1,344.0 L47.2,350.0 L48.4,356.0 L49.6,362.0 L50.8,368.0 L52.1,374.0 L53.4,380.0 L54.7,386.0 L56.0,392.0 L57.4,398.0 L58.8,404.0 L60.2,410.0 L61.7,416.0 L63.2,422.0 L64.7,428.0 L66.2,434.0 L67.7,440.0 L69.3,446.0 L70.9,452.0 L72.5,458.0 L74.1,464.0 L75.7,470.0 L77.4,476.0 L79.0,482.0 L80.7,488.0 L82.3,494.0 L84.0,500.0 L85.6,506.0 L87.3,512.0 L88.9,518.0 L90.6,524.0 L92.2,530.0 L93.9,536.0 L95.5,542.0 L97.1,548.0 L98.7,554.0 L100.2,560.0 L101.8,566.0 L103.3,572.0 L104.8,578.0 L106.2,584.0 L107.6,590.0 L109.0,596.0 L110.3,602.0 L111.6,608.0 L112.8,614.0 L114.0,620.0 L115.2,626.0 L116.2,632.0 L117.3,638.0 L118.3,644.0 L119.2,650.0 L120.0,656.0 L120.8,662.0 L121.5,668.0 L122.1,674.0 L122.6,680.0 L123.1,686.0 L123.5,692.0 L123.8,698.0 L124.0,704.0 L124.1,710.0 L124.0,716.0 L123.9,722.0 L123.7,728.0 L127.2,728.0 L127.4,722.0 L127.6,716.0 L127.6,710.0 L127.6,704.0 L127.4,698.0 L127.2,692.0 L126.8,686.0 L126.4,680.0 L125.9,674.0 L125.3,668.0 L124.7,662.0 L123.9,656.0 L123.1,650.0 L122.3,644.0 L121.3,638.0 L120.4,632.0 L119.3,626.0 L118.2,620.0 L117.1,614.0 L115.9,608.0 L114.6,602.0 L113.4,596.0 L112.0,590.0 L110.7,584.0 L109.3,578.0 L107.9,572.0 L106.5,566.0 L105.0,560.0 L103.6,554.0 L102.1,548.0 L100.6,542.0 L99.1,536.0 L97.5,530.0 L96.0,524.0 L94.5,518.0 L92.9,512.0 L91.4,506.0 L89.8,500.0 L88.2,494.0 L86.7,488.0 L85.1,482.0 L83.6,476.0 L82.1,470.0 L80.5,464.0 L79.0,458.0 L77.5,452.0 L76.1,446.0 L74.6,440.0 L73.1,434.0 L71.7,428.0 L70.2,422.0 L68.9,416.0 L67.5,410.0 L66.1,404.0 L64.8,398.0 L63.5,392.0 L62.2,386.0 L61.0,380.0 L59.8,374.0 L58.7,368.0 L57.5,362.0 L56.4,356.0 L55.4,350.0 L54.3,344.0 L53.4,338.0 L52.4,332.0 L51.5,326.0 L50.6,320.0 L49.8,314.0 L49.0,308.0 L48.2,302.0 L47.5,296.0 L46.9,290.0 L46.2,284.0 L45.5,278.0 L44.9,272.0 L44.3,266.0 L43.8,260.0 L43.3,254.0 L42.8,248.0 L42.4,242.0 L42.1,236.0 L41.7,230.0 L41.4,224.0 L41.2,218.0 L41.0,212.0 L40.8,206.0 L40.7,200.0 L40.6,194.0 L40.6,188.0 L40.6,182.0 L40.7,176.0 L40.8,170.0 L40.9,164.0 L41.1,158.0 L41.3,152.0 L41.5,146.0 L41.8,140.0 L42.0,134.0 L42.3,128.0 L42.6,122.0 L42.9,116.0 L43.2,110.0 L43.6,104.0 L44.0,98.0 L44.4,92.0 L44.8,86.0 L45.3,80.0 L45.6,74.0 L46.0,68.0 L46.4,62.0 L46.8,56.0 L47.2,50.0 L47.6,44.0 L48.2,38.0 L48.7,32.0 L49.2,26.0 L49.8,20.0 L50.3,14.0 L50.9,8.0 L51.4,2.0 L51.9,-4.0 L52.5,-10.0Z" fill="url(#gy)" filter="url(#ysoft)"/>
</g><g fill="none" stroke="#44618f" stroke-width="1" stroke-opacity="0.36"><path d="M-10.0,718.0 C13.3,711.5 83.3,687.8 130.0,679.0 C176.7,670.2 215.0,671.0 270.0,665.0 C325.0,659.0 415.0,647.7 460.0,643.0 C505.0,638.3 513.3,637.7 540.0,637.0 C566.7,636.3 590.0,636.7 620.0,639.0 C650.0,641.3 696.7,647.7 720.0,651.0 C743.3,654.3 746.7,656.0 760.0,659.0 C773.3,662.0 780.0,662.3 800.0,669.0 C820.0,675.7 857.5,690.3 880.0,699.0 C902.5,707.7 925.8,717.3 935.0,721.0"/>
<path d="M-4.7,720.7 C17.9,714.1 85.3,690.3 131.1,681.2 C176.8,672.0 215.4,671.6 270.0,665.8 C324.6,660.0 413.9,650.4 458.9,646.2 C503.9,642.0 513.2,641.2 540.0,640.5 C566.8,639.7 590.0,639.8 620.0,641.8 C650.0,643.9 696.7,649.9 720.0,653.0 C743.3,656.1 746.7,657.8 760.0,660.6 C773.3,663.5 780.0,663.7 800.0,670.3 C820.0,676.8 857.4,691.2 880.0,699.7 C902.6,708.3 926.5,717.8 935.8,721.4"/>
<path d="M0.5,723.5 C22.5,716.8 87.2,692.8 132.1,683.3 C177.0,673.8 215.7,672.2 270.0,666.6 C324.3,660.9 412.9,653.2 457.9,649.4 C502.9,645.6 513.0,644.7 540.0,643.9 C567.0,643.2 590.0,642.8 620.0,644.7 C650.0,646.5 696.7,652.1 720.0,655.0 C743.3,657.9 746.7,659.5 760.0,662.3 C773.3,665.0 780.0,665.2 800.0,671.5 C820.0,677.9 857.2,692.1 880.0,700.5 C902.8,708.8 927.1,718.2 936.6,721.7"/>
<path d="M5.8,726.2 C27.0,719.4 89.1,695.3 133.2,685.5 C177.2,675.7 216.1,672.8 270.0,667.4 C323.9,661.9 411.8,656.0 456.8,652.6 C501.8,649.3 512.8,648.3 540.0,647.4 C567.2,646.6 590.0,645.9 620.0,647.5 C650.0,649.1 696.7,654.3 720.0,657.0 C743.3,659.7 746.7,661.3 760.0,663.9 C773.3,666.5 780.0,666.6 800.0,672.8 C820.0,679.0 857.1,693.0 880.0,701.2 C902.9,709.4 927.8,718.6 937.4,722.1"/>
<path d="M11.1,728.9 C31.6,722.1 91.1,697.8 134.2,687.6 C177.4,677.5 216.4,673.5 270.0,668.2 C323.6,662.9 410.8,658.7 455.8,655.8 C500.8,653.0 512.6,651.8 540.0,650.9 C567.4,650.0 590.0,649.0 620.0,650.4 C650.0,651.7 696.7,656.5 720.0,659.0 C743.3,661.5 746.7,663.0 760.0,665.5 C773.3,668.0 780.0,668.0 800.0,674.1 C820.0,680.1 857.0,693.9 880.0,701.9 C903.0,710.0 928.5,719.1 938.2,722.5"/>
<path d="M16.3,731.7 C36.1,724.7 93.0,700.2 135.3,689.8 C177.5,679.3 216.8,674.1 270.0,668.9 C323.2,663.8 409.7,661.5 454.7,659.1 C499.7,656.6 512.5,655.3 540.0,654.4 C567.5,653.4 590.0,652.1 620.0,653.2 C650.0,654.3 696.7,658.7 720.0,661.0 C743.3,663.3 746.7,664.8 760.0,667.2 C773.3,669.5 780.0,669.4 800.0,675.3 C820.0,681.2 856.8,694.8 880.0,702.7 C903.2,710.6 929.1,719.5 938.9,722.8"/>
<path d="M21.6,734.4 C40.7,727.3 94.9,702.7 136.3,691.9 C177.7,681.2 217.1,674.7 270.0,669.7 C322.9,664.8 408.7,664.2 453.7,662.3 C498.7,660.3 512.3,658.9 540.0,657.8 C567.7,656.8 590.0,655.2 620.0,656.1 C650.0,656.9 696.7,660.9 720.0,663.0 C743.3,665.1 746.7,666.5 760.0,668.8 C773.3,671.1 780.0,670.8 800.0,676.6 C820.0,682.4 856.7,695.6 880.0,703.4 C903.3,711.2 929.8,719.9 939.7,723.2"/>
<path d="M26.8,737.2 C45.3,730.0 96.8,705.2 137.4,694.1 C177.9,683.0 217.5,675.3 270.0,670.5 C322.5,665.8 407.6,667.0 452.6,665.5 C497.6,663.9 512.1,662.4 540.0,661.3 C567.9,660.2 590.0,658.3 620.0,658.9 C650.0,659.5 696.7,663.1 720.0,665.0 C743.3,666.9 746.7,668.3 760.0,670.4 C773.3,672.6 780.0,672.2 800.0,677.8 C820.0,683.5 856.6,696.5 880.0,704.2 C903.4,711.8 930.4,720.3 940.5,723.6"/>
<path d="M32.1,739.9 C49.8,732.6 98.8,707.7 138.4,696.3 C178.1,684.8 217.8,675.9 270.0,671.3 C322.2,666.7 406.6,669.8 451.6,668.7 C496.6,667.6 511.9,665.9 540.0,664.8 C568.1,663.6 590.0,661.4 620.0,661.7 C650.0,662.1 696.7,665.3 720.0,667.0 C743.3,668.7 746.7,670.0 760.0,672.1 C773.3,674.1 780.0,673.6 800.0,679.1 C820.0,684.6 856.4,697.4 880.0,704.9 C903.6,712.4 931.1,720.8 941.3,723.9"/>
<path d="M37.4,742.6 C54.4,735.3 100.7,710.2 139.5,698.4 C178.2,686.7 218.2,676.5 270.0,672.1 C321.8,667.7 405.5,672.5 450.5,671.9 C495.5,671.3 511.8,669.5 540.0,668.3 C568.2,667.0 590.0,664.5 620.0,664.6 C650.0,664.7 696.7,667.5 720.0,669.0 C743.3,670.5 746.7,671.8 760.0,673.7 C773.3,675.6 780.0,675.0 800.0,680.4 C820.0,685.7 856.3,698.3 880.0,705.6 C903.7,713.0 931.8,721.2 942.1,724.3"/>
<path d="M42.6,745.4 C58.9,737.9 102.6,712.7 140.5,700.6 C178.4,688.5 218.5,677.1 270.0,672.9 C321.5,668.6 404.5,675.3 449.5,675.1 C494.5,674.9 511.6,673.0 540.0,671.7 C568.4,670.5 590.0,667.5 620.0,667.4 C650.0,667.3 696.7,669.7 720.0,671.0 C743.3,672.3 746.7,673.5 760.0,675.3 C773.3,677.1 780.0,676.5 800.0,681.6 C820.0,686.8 856.2,699.2 880.0,706.4 C903.8,713.5 932.4,721.6 942.9,724.7"/>
<path d="M47.9,748.1 C63.5,740.5 104.6,715.1 141.6,702.7 C178.6,690.3 218.9,677.8 270.0,673.7 C321.1,669.6 403.4,678.1 448.4,678.3 C493.4,678.6 511.4,676.6 540.0,675.2 C568.6,673.9 590.0,670.6 620.0,670.3 C650.0,669.9 696.7,671.9 720.0,673.0 C743.3,674.1 746.7,675.3 760.0,676.9 C773.3,678.6 780.0,677.9 800.0,682.9 C820.0,687.9 856.1,700.1 880.0,707.1 C903.9,714.1 933.1,722.1 943.7,725.1"/>
<path d="M53.2,750.8 C68.1,743.2 106.5,717.6 142.6,704.9 C178.8,692.2 219.2,678.4 270.0,674.5 C320.8,670.6 402.4,680.8 447.4,681.5 C492.4,682.2 511.2,680.1 540.0,678.7 C568.8,677.3 590.0,673.7 620.0,673.1 C650.0,672.5 696.7,674.1 720.0,675.0 C743.3,675.9 746.7,677.1 760.0,678.6 C773.3,680.1 780.0,679.3 800.0,684.2 C820.0,689.0 855.9,701.0 880.0,707.8 C904.1,714.7 933.7,722.5 944.5,725.4"/>
<path d="M58.4,753.6 C72.6,745.8 108.4,720.1 143.7,707.1 C178.9,694.0 219.6,679.0 270.0,675.3 C320.4,671.5 401.3,683.6 446.3,684.7 C491.3,685.9 511.1,683.6 540.0,682.2 C568.9,680.7 590.0,676.8 620.0,675.9 C650.0,675.1 696.7,676.3 720.0,677.0 C743.3,677.7 746.7,678.8 760.0,680.2 C773.3,681.6 780.0,680.7 800.0,685.4 C820.0,690.1 855.8,701.9 880.0,708.6 C904.2,715.3 934.4,722.9 945.3,725.8"/>
<path d="M63.7,756.3 C77.2,748.5 110.4,722.6 144.7,709.2 C179.1,695.8 219.9,679.6 270.0,676.1 C320.1,672.5 400.3,686.4 445.3,687.9 C490.3,689.5 510.9,687.2 540.0,685.6 C569.1,684.1 590.0,679.9 620.0,678.8 C650.0,677.7 696.7,678.5 720.0,679.0 C743.3,679.5 746.7,680.6 760.0,681.8 C773.3,683.1 780.0,682.1 800.0,686.7 C820.0,691.3 855.7,702.7 880.0,709.3 C904.3,715.9 935.0,723.4 946.1,726.2"/>
<path d="M68.9,759.1 C81.8,751.1 112.3,725.1 145.8,711.4 C179.3,697.7 220.3,680.2 270.0,676.8 C319.7,673.5 399.2,689.1 444.2,691.2 C489.2,693.2 510.7,690.7 540.0,689.1 C569.3,687.5 590.0,683.0 620.0,681.6 C650.0,680.3 696.7,680.7 720.0,681.0 C743.3,681.3 746.7,682.3 760.0,683.5 C773.3,684.6 780.0,683.5 800.0,687.9 C820.0,692.4 855.5,703.6 880.0,710.1 C904.5,716.5 935.7,723.8 946.8,726.5"/>
<path d="M74.2,761.8 C86.3,753.7 114.2,727.6 146.8,713.5 C179.5,699.5 220.6,680.8 270.0,677.6 C319.4,674.4 398.2,691.9 443.2,694.4 C488.2,696.9 510.5,694.2 540.0,692.6 C569.5,690.9 590.0,686.1 620.0,684.5 C650.0,682.9 696.7,682.9 720.0,683.0 C743.3,683.1 746.7,684.1 760.0,685.1 C773.3,686.1 780.0,684.9 800.0,689.2 C820.0,693.5 855.4,704.5 880.0,710.8 C904.6,717.1 936.4,724.2 947.6,726.9"/>
<path d="M79.5,764.5 C90.9,756.4 116.1,730.0 147.9,715.7 C179.6,701.3 221.0,681.4 270.0,678.4 C319.0,675.4 397.1,694.6 442.1,697.6 C487.1,700.5 510.4,697.8 540.0,696.1 C569.6,694.3 590.0,689.2 620.0,687.3 C650.0,685.5 696.7,685.1 720.0,685.0 C743.3,684.9 746.7,685.8 760.0,686.7 C773.3,687.6 780.0,686.3 800.0,690.5 C820.0,694.6 855.3,705.4 880.0,711.5 C904.7,717.7 937.0,724.6 948.4,727.3"/>
<path d="M84.7,767.3 C95.4,759.0 118.1,732.5 148.9,717.8 C179.8,703.2 221.3,682.1 270.0,679.2 C318.7,676.4 396.1,697.4 441.1,700.8 C486.1,704.2 510.2,701.3 540.0,699.5 C569.8,697.8 590.0,692.2 620.0,690.2 C650.0,688.1 696.7,687.3 720.0,687.0 C743.3,686.7 746.7,687.6 760.0,688.4 C773.3,689.2 780.0,687.8 800.0,691.7 C820.0,695.7 855.1,706.3 880.0,712.3 C904.9,718.2 937.7,725.1 949.2,727.6"/>
<path d="M90.0,770.0 C100.0,761.7 120.0,735.0 150.0,720.0 C180.0,705.0 221.7,682.7 270.0,680.0 C318.3,677.3 395.0,700.2 440.0,704.0 C485.0,707.8 510.0,704.8 540.0,703.0 C570.0,701.2 590.0,695.3 620.0,693.0 C650.0,690.7 696.7,689.5 720.0,689.0 C743.3,688.5 746.7,689.3 760.0,690.0 C773.3,690.7 780.0,689.2 800.0,693.0 C820.0,696.8 855.0,707.2 880.0,713.0 C905.0,718.8 938.3,725.5 950.0,728.0"/><linearGradient id="gA" gradientUnits="userSpaceOnUse" x1="590" y1="0" x2="700" y2="0"><stop offset="0" stop-color="#44618f" stop-opacity="0.08"/><stop offset="1" stop-color="#44618f" stop-opacity="1"/></linearGradient><g stroke="url(#gA)"><path d="M585.0,697.0 C594.2,695.7 620.8,693.0 640.0,689.0 C659.2,685.0 680.0,678.5 700.0,673.0 C720.0,667.5 740.0,662.0 760.0,656.0 C780.0,650.0 796.7,644.8 820.0,637.0 C843.3,629.2 875.8,618.7 900.0,609.0 C924.2,599.3 954.2,584.0 965.0,579.0"/>
<path d="M585.0,697.2 C594.2,695.9 620.6,693.2 640.0,689.3 C659.4,685.4 680.9,679.1 701.1,673.9 C721.3,668.7 741.3,663.5 761.1,657.9 C780.9,652.2 796.9,647.3 820.0,640.0 C843.1,632.8 875.8,623.1 900.0,614.3 C924.2,605.4 954.2,591.4 965.0,586.8"/>
<path d="M585.0,697.4 C594.2,696.1 620.5,693.3 640.0,689.6 C659.5,685.8 681.9,679.8 702.2,674.8 C722.6,669.8 742.6,665.0 762.2,659.7 C781.9,654.4 797.0,649.7 820.0,643.0 C843.0,636.3 875.8,627.5 900.0,619.4 C924.2,611.4 954.2,598.6 965.0,594.4"/>
<path d="M585.0,697.7 C594.2,696.4 620.3,693.5 640.0,689.8 C659.7,686.2 682.7,680.4 703.3,675.6 C723.8,670.9 743.8,666.4 763.3,661.4 C782.7,656.5 797.2,652.1 820.0,645.9 C842.8,639.8 875.8,631.8 900.0,624.5 C924.2,617.2 954.2,605.7 965.0,601.9"/>
<path d="M585.0,697.9 C594.2,696.6 620.1,693.7 640.0,690.1 C659.9,686.5 683.6,681.0 704.4,676.5 C725.1,672.0 745.1,667.8 764.4,663.2 C783.6,658.6 797.4,654.4 820.0,648.8 C842.6,643.1 875.8,636.0 900.0,629.5 C924.2,622.9 954.2,612.6 965.0,609.3"/>
<path d="M585.0,698.1 C594.2,696.8 619.9,693.8 640.0,690.3 C660.1,686.9 684.5,681.6 705.4,677.3 C726.3,673.1 746.3,669.2 765.4,664.9 C784.5,660.6 797.6,656.6 820.0,651.5 C842.4,646.4 875.8,640.2 900.0,634.3 C924.2,628.4 954.2,619.4 965.0,616.4"/>
<path d="M585.0,698.3 C594.2,697.0 619.8,694.0 640.0,690.6 C660.2,687.2 685.3,682.1 706.4,678.1 C727.5,674.1 747.5,670.5 766.4,666.5 C785.3,662.6 797.7,658.8 820.0,654.3 C842.3,649.7 875.8,644.2 900.0,639.0 C924.2,633.9 954.2,626.0 965.0,623.4"/>
<path d="M585.0,698.5 C594.2,697.2 619.6,694.1 640.0,690.8 C660.4,687.6 686.1,682.7 707.4,678.9 C728.6,675.1 748.6,671.8 767.4,668.2 C786.1,664.5 797.9,661.0 820.0,656.9 C842.1,652.8 875.8,648.1 900.0,643.7 C924.2,639.2 954.2,632.5 965.0,630.3"/>
<path d="M585.0,698.7 C594.2,697.4 619.4,694.3 640.0,691.1 C660.6,687.9 686.9,683.2 708.3,679.7 C729.7,676.1 749.7,673.1 768.3,669.8 C786.9,666.4 798.1,663.1 820.0,659.5 C841.9,655.9 875.8,651.9 900.0,648.2 C924.2,644.4 954.2,638.8 965.0,636.9"/>
<path d="M585.0,698.9 C594.2,697.6 619.3,694.4 640.0,691.3 C660.7,688.2 687.7,683.8 709.3,680.4 C730.8,677.1 750.8,674.4 769.3,671.3 C787.7,668.2 798.2,665.2 820.0,662.0 C841.8,658.9 875.8,655.7 900.0,652.6 C924.2,649.5 954.2,645.0 965.0,643.5"/>
<path d="M585.0,699.0 C594.2,697.8 619.1,694.5 640.0,691.5 C660.9,688.6 688.5,684.3 710.2,681.2 C731.9,678.0 751.9,675.6 770.2,672.8 C788.5,670.0 798.4,667.2 820.0,664.5 C841.6,661.9 875.8,659.3 900.0,656.9 C924.2,654.5 954.2,651.0 965.0,649.8"/>
<path d="M585.0,699.2 C594.2,698.0 619.0,694.7 640.0,691.8 C661.0,688.9 689.2,684.8 711.1,681.9 C732.9,679.0 752.9,676.8 771.1,674.3 C789.2,671.8 798.5,669.1 820.0,666.9 C841.5,664.7 875.8,662.9 900.0,661.1 C924.2,659.3 954.2,656.9 965.0,656.0"/>
<path d="M585.0,699.4 C594.2,698.2 618.8,694.8 640.0,692.0 C661.2,689.2 690.0,685.3 712.0,682.6 C733.9,679.9 753.9,677.9 772.0,675.7 C790.0,673.5 798.7,671.0 820.0,669.3 C841.3,667.5 875.8,666.4 900.0,665.2 C924.2,664.0 954.2,662.6 965.0,662.1"/>
<path d="M585.0,699.6 C594.2,698.3 618.7,694.9 640.0,692.2 C661.3,689.5 690.7,685.8 712.8,683.2 C734.9,680.7 754.9,679.1 772.8,677.1 C790.7,675.2 798.8,672.9 820.0,671.6 C841.2,670.2 875.8,669.8 900.0,669.2 C924.2,668.6 954.2,668.2 965.0,668.0"/>
<path d="M585.0,699.7 C594.2,698.5 618.6,695.0 640.0,692.4 C661.4,689.8 691.4,686.2 713.6,683.9 C735.9,681.6 755.9,680.2 773.6,678.5 C791.4,676.8 798.9,674.7 820.0,673.8 C841.1,672.9 875.8,673.0 900.0,673.0 C924.2,673.0 954.2,673.6 965.0,673.7"/>
<path d="M585.0,699.9 C594.2,698.7 618.4,695.2 640.0,692.6 C661.6,690.0 692.0,686.7 714.4,684.5 C736.8,682.4 756.8,681.2 774.4,679.8 C792.0,678.4 799.1,676.4 820.0,675.9 C840.9,675.4 875.8,676.2 900.0,676.8 C924.2,677.3 954.2,678.8 965.0,679.2"/>
<path d="M585.0,700.0 C594.2,698.8 618.3,695.3 640.0,692.8 C661.7,690.3 692.7,687.1 715.2,685.2 C737.7,683.2 757.7,682.3 775.2,681.1 C792.7,679.9 799.2,678.2 820.0,678.0 C840.8,677.9 875.8,679.3 900.0,680.4 C924.2,681.5 954.2,684.0 965.0,684.7"/>
<path d="M585.0,700.2 C594.2,699.0 618.2,695.4 640.0,693.0 C661.8,690.6 693.3,687.5 716.0,685.8 C738.6,684.0 758.6,683.3 776.0,682.3 C793.3,681.4 799.3,679.8 820.0,680.1 C840.7,680.4 875.8,682.4 900.0,684.0 C924.2,685.6 954.2,688.9 965.0,689.9"/>
<path d="M585.0,700.3 C594.2,699.1 618.1,695.5 640.0,693.2 C661.9,690.8 693.9,688.0 716.7,686.4 C739.5,684.7 759.5,684.3 776.7,683.5 C793.9,682.8 799.4,681.4 820.0,682.1 C840.6,682.7 875.8,685.3 900.0,687.4 C924.2,689.6 954.2,693.7 965.0,695.0"/>
<path d="M585.0,700.5 C594.2,699.3 617.9,695.6 640.0,693.3 C662.1,691.1 694.5,688.4 717.4,686.9 C740.3,685.5 760.3,685.2 777.4,684.7 C794.5,684.2 799.6,683.0 820.0,684.0 C840.4,685.0 875.8,688.1 900.0,690.8 C924.2,693.4 954.2,698.4 965.0,699.9"/>
<path d="M585.0,700.6 C594.2,699.4 617.8,695.7 640.0,693.5 C662.2,691.3 695.1,688.7 718.1,687.5 C741.1,686.2 761.1,686.1 778.1,685.8 C795.1,685.6 799.7,684.5 820.0,685.8 C840.3,687.2 875.8,690.8 900.0,694.0 C924.2,697.1 954.2,702.9 965.0,704.7"/>
<path d="M585.0,700.7 C594.2,699.6 617.7,695.8 640.0,693.7 C662.3,691.6 695.6,689.1 718.7,688.0 C741.9,686.9 761.9,687.0 778.7,686.9 C795.6,686.9 799.8,685.9 820.0,687.6 C840.2,689.3 875.8,693.5 900.0,697.1 C924.2,700.7 954.2,707.2 965.0,709.3"/>
<path d="M585.0,700.9 C594.2,699.7 617.6,695.9 640.0,693.8 C662.4,691.8 696.2,689.5 719.4,688.5 C742.6,687.5 762.6,687.8 779.4,688.0 C796.2,688.1 799.9,687.3 820.0,689.3 C840.1,691.4 875.8,696.0 900.0,700.1 C924.2,704.2 954.2,711.4 965.0,713.7"/>
<path d="M585.0,701.0 C594.2,699.8 617.5,696.0 640.0,694.0 C662.5,692.0 696.7,689.8 720.0,689.0 C743.3,688.2 763.3,688.7 780.0,689.0 C796.7,689.3 800.0,688.7 820.0,691.0 C840.0,693.3 875.8,698.5 900.0,703.0 C924.2,707.5 954.2,715.5 965.0,718.0"/></g><path d="M-10.0,718.0 C-1.7,715.0 23.3,705.5 40.0,700.0 C56.7,694.5 75.0,688.5 90.0,685.0 C105.0,681.5 116.7,680.7 130.0,679.0 C143.3,677.3 163.3,675.7 170.0,675.0" stroke="#e4eefa" stroke-width="1.3" stroke-opacity="1"/></g><!-- network ring -->
<rect x="42" y="175.3" width="868.5" height="114.9" fill="none" stroke="#000" stroke-width="2"/>
<!-- slash marks -->
<g stroke="#111" stroke-width="1.1">
<line x1="585.4" y1="184.5" x2="605" y2="166.5"/><line x1="595.3" y1="184.5" x2="614.8" y2="166.5"/>
<line x1="538.3" y1="299.5" x2="557.1" y2="282.3"/><line x1="547.7" y1="299.5" x2="566.7" y2="282.3"/>
</g>
<!-- ATS box -->
<rect x="389.5" y="75.9" width="142.3" height="48.6" fill="#c8d5e5" stroke="#4f5862" stroke-width="1.6"/>
<!-- ZC box -->
<rect x="132.6" y="215.5" width="143.2" height="48.6" fill="#c8d5e5" stroke="#1a1a1a" stroke-width="1.3"/>
<!-- FRONTAM box -->
<rect x="681.3" y="215.6" width="143.4" height="48.4" fill="#c8d5e5" stroke="#1a1a1a" stroke-width="1.3"/>
<!-- red text -->
<!-- top labels -->
<!-- Microlok box -->
<rect x="363.5" y="344.3" width="109" height="61.2" fill="#c8d5e5" stroke="#1a1a1a" stroke-width="1.3"/>
<!-- ATS/LCW box -->
<rect x="591" y="344.8" width="109" height="60.5" fill="#c8d5e5" stroke="#1a1a1a" stroke-width="1.3"/>
<!-- IP label -->
<!-- switches -->
<g fill="#bccbe0" stroke="#111" stroke-width="1.5">
<rect x="196.05" y="166.95" width="16.2" height="14.3"/>
<rect x="452.85" y="167.95" width="15.5" height="14.8"/>
<rect x="744.95" y="166.95" width="16.1" height="14.3"/>
<rect x="213.75" y="282.05" width="15.5" height="14.9"/>
<rect x="410.95" y="282.25" width="16.1" height="14.5"/>
<rect x="633.95" y="282.25" width="16.3" height="14.7"/>
</g>
<!-- arrows -->
<g stroke="#000" stroke-width="1.3" fill="none">
<line x1="460.5" y1="135.5" x2="460.5" y2="155.8"/>
<line x1="204.25" y1="194.3" x2="204.25" y2="203.7"/>
<line x1="752.85" y1="194.3" x2="752.85" y2="203.7"/>
<line x1="221.4" y1="311.2" x2="221.4" y2="327.5"/>
<line x1="419" y1="312.0" x2="419" y2="329.9"/>
<line x1="640.8" y1="312.2" x2="640.8" y2="330.2"/>
<line x1="113.8" y1="422.1" x2="113.8" y2="435.7"/>
<line x1="481" y1="375.3" x2="581" y2="375.3"/>
</g><g fill="#000">
<path d="M460.5,126.3 L465.7,136 L455.3,136Z"/><path d="M460.5,165.2 L465.7,155.3 L455.3,155.3Z"/>
<path d="M204.25,182.9 L208.65,194.8 L199.85,194.8Z"/><path d="M204.25,215.1 L208.65,203.2 L199.85,203.2Z"/>
<path d="M752.85,183.4 L757.15,194.8 L748.5500000000001,194.8Z"/><path d="M752.85,215.1 L757.15,203.2 L748.5500000000001,203.2Z"/>
<path d="M221.4,298.7 L226.8,311.7 L216.0,311.7Z"/><path d="M221.4,342 L226.8,327 L216.0,327Z"/>
<path d="M419,298.6 L424.2,312.5 L413.8,312.5Z"/><path d="M419,344 L424.2,329.4 L413.8,329.4Z"/>
<path d="M640.8,298.8 L646.0,312.7 L635.5999999999999,312.7Z"/><path d="M640.8,343.9 L646.0,329.7 L635.5999999999999,329.7Z"/>
<path d="M113.8,408 L118.85,422.6 L108.75,422.6Z"/><path d="M113.8,448.1 L118.85,435.2 L108.75,435.2Z"/>
<path d="M473,375.25 L481.8,370.55 L481.8,379.95Z"/><path d="M589.7,375.25 L580,370.55 L580,379.95Z"/>
</g>
<!-- dashed callout -->
<path d="M661,235.6 L661,200 L842,200 L842,273.1 L661,273.1 L661,251.3" fill="none" stroke="#e45454" stroke-width="1.9" stroke-dasharray="9.5,5.5"/>
<path d="M661,235.6 L620.5,224 L661,251.3" fill="none" stroke="#e45454" stroke-width="1.3"/>
<!-- AP bowties -->
<g fill="#b5c7e2" stroke="#24303c" stroke-width="1.1">
<path d="M96.6,399 L96.6,414.2 L113.7,406.4Z"/><path d="M130.6,399 L130.6,414.2 L113.7,406.4Z"/>
<path d="M204,334.6 L204,349.8 L221.2,342.2Z"/><path d="M237.6,334.6 L237.6,349.8 L221.2,342.2Z"/>
</g>
<!-- curved arrow between APs -->
<path d="M156.5,405.5 C157.5,404.5 160.7,401.6 162.5,399.5 C164.3,397.4 165.8,395.0 167.2,392.6 C168.6,390.2 170.1,387.6 171.0,385.0 C171.9,382.4 172.3,379.7 172.8,377.0 C173.3,374.3 173.6,371.7 174.2,369.0 C174.8,366.3 175.5,363.4 176.5,361.0 C177.5,358.6 178.8,356.4 180.0,354.5 C181.2,352.6 182.5,351.0 184.0,349.5 C185.5,348.0 188.2,346.2 189.0,345.5" fill="none" stroke="#000" stroke-width="1.1"/>
<path d="M145.3,407.3 L157.7,398.5 L158.9,410.9Z" fill="#000"/>
<path d="M200.2,342.4 L187.2,339.4 L188.4,350.7Z" fill="#000"/>
<!-- AP labels -->
<!-- tracks -->
<g stroke="#333" stroke-width="1.3">
<line x1="35" y1="467.5" x2="920" y2="467.5"/>
<line x1="36.7" y1="535.3" x2="920" y2="535.3"/>
</g>
<!-- CC train -->
<path d="M63.6,448.6 L137,448.6 L170.8,467.4 L137,486.2 L63.6,486.2Z" fill="#c8d6a6" stroke="#2a2a2a" stroke-width="1.3"/>
<line x1="137" y1="449.5" x2="137" y2="485.5" stroke="#b8c697" stroke-width="1"/>
<rect x="98.5" y="450.7" width="29.5" height="15.2" fill="none" stroke="#333" stroke-width="1.1" stroke-dasharray="1.2,1.5"/>
<!-- crossover -->
<g stroke="#2a2a2a" stroke-width="1.2" fill="none">
<path d="M549.2,469.3 L556.3,469.3 L648.7,533.7 L655.8,533.7"/>
<path d="M546.2,533.7 L553.3,533.7 L646.7,469.3 L653,469.3"/>
</g>
<!-- point machines (squares) -->
<g fill="#c8d6e6" stroke="#2a2a2a" stroke-width="1.2">
<rect x="543.6" y="452.5" width="13" height="12"/>
<rect x="644.6" y="452.5" width="13" height="12"/>
<rect x="543.6" y="538.5" width="13" height="12"/>
<rect x="645.6" y="538.5" width="13" height="12"/>
</g>
<!-- tags triangles -->
<g fill="#c5d5e8" stroke="#2a2a2a" stroke-width="1.1">
<path d="M366.2,462 L373.5,451.4 L380.8,462Z"/><path d="M384,462 L391,451.4 L397.8,462Z"/>
<path d="M452.4,464.2 L459.5,452.9 L466.5,464.2Z"/>
<path d="M729.2,548.7 L736.4,537.5 L743.6,548.7Z"/>
<path d="M785.8,548.7 L793.3,537.5 L801,548.7Z"/><path d="M803.1,548.7 L810,537.5 L817,548.7Z"/>
</g>
<!-- axle counters -->
<g stroke="#111" stroke-width="1.2">
<line x1="490.3" y1="456.5" x2="518.7" y2="456.5"/>
<line x1="490.6" y1="527.5" x2="518.7" y2="527.5"/>
<line x1="681.6" y1="476" x2="710" y2="476"/>
<line x1="681.6" y1="542.2" x2="710" y2="542.2"/>
</g>
<g fill="#000">
<circle cx="499" cy="456.5" r="3.6"/><circle cx="511.3" cy="456.5" r="3.6"/>
<circle cx="499" cy="527.5" r="3.6"/><circle cx="511.5" cy="527.5" r="3.6"/>
<circle cx="690" cy="476" r="3.6"/><circle cx="702.9" cy="476" r="3.6"/>
<circle cx="690" cy="542.2" r="3.6"/><circle cx="702.9" cy="542.2" r="3.6"/>
</g>
<!-- signals -->
<g stroke="#222" stroke-width="1.3">
<line x1="470.2" y1="475" x2="470.2" y2="488.7"/><line x1="470.2" y1="482.4" x2="488" y2="482.4"/>
<line x1="473.5" y1="543.2" x2="473.5" y2="556.6"/><line x1="473.5" y1="549.55" x2="491" y2="549.55"/>
<line x1="730.65" y1="447" x2="730.65" y2="460.6"/><line x1="713" y1="453.4" x2="730.65" y2="453.4"/>
<line x1="731.4" y1="515.2" x2="731.4" y2="528.6"/><line x1="714" y1="521.5" x2="731.4" y2="521.5"/>
</g>
<g fill="#6c9be0" stroke="#1c2740" stroke-width="1.2">
<circle cx="495.75" cy="482.45" r="7.8"/>
<circle cx="498.75" cy="550.2" r="7.8"/>
<circle cx="705.5" cy="453.15" r="7.8"/>
<circle cx="706.1" cy="521.3" r="7.8"/>
</g>
<!-- track labels -->

<text class="sf" font-size="17" fill="#484848" transform="matrix(0.9818,0,0,0.7997,415.50,105.41)"><tspan x="0.00 17.00 34.00 51.00">控制中心</tspan></text>
<text class="lsf" font-size="17" fill="#222" transform="matrix(0.7780,0,0,0.9016,482.54,106.44)"><tspan x="0.00 12.28 22.66">ATS</tspan></text>
<text class="sf" font-size="20" fill="#e44a4a" transform="matrix(1.0010,0,0,0.8372,382.83,210.00)"><tspan x="0.00 20.00 40.00 60.00 80.00 100.00 120.00 140.00 160.00 180.00 200.00">静态轨道地图存储和更新</tspan></text>
<text class="sf" font-size="20" fill="#e44a4a" transform="matrix(1.3018,0,0,0.7255,594.40,210.57)"><tspan x="0.00">；</tspan></text>
<text class="sf" font-size="20" fill="#e44a4a" transform="matrix(0.9912,0,0,0.8901,386.68,232.79)"><tspan x="0.00 20.00">实现</tspan></text>
<text class="lsf" font-size="20" fill="#e44a4a" transform="matrix(0.8397,0,0,0.9479,426.72,233.21)"><tspan x="0.00 14.44 26.66">ATS</tspan></text>
<text class="sf" font-size="20" fill="#e44a4a" transform="matrix(0.9558,0,0,0.8728,459.43,232.13)"><tspan x="0.00 20.00 40.00">和其他</tspan></text>
<text class="lsf" font-size="20" fill="#e44a4a" transform="matrix(0.7552,0,0,0.9480,517.70,233.21)"><tspan x="0.00 13.34 26.68 38.90">CBTC</tspan></text>
<text class="sf" font-size="20" fill="#e44a4a" transform="matrix(0.9803,0,0,0.8714,558.22,232.54)"><tspan x="0.00 20.00 40.00">子系统</tspan></text>
<text class="sf" font-size="20" fill="#e44a4a" transform="matrix(1.0122,0,0,0.8662,422.88,255.54)"><tspan x="0.00 20.00 40.00 60.00 80.00 100.00 120.00 140.00">间信息的双向传输</tspan></text>
<text class="sf" font-size="16.5" fill="#484848" transform="matrix(1.0090,0,0,0.8385,162.62,156.36)"><tspan x="0.00 16.50 33.00 49.50 66.00">接入交换机</tspan></text>
<text class="sf" font-size="16.5" fill="#484848" transform="matrix(0.9996,0,0,0.8420,711.06,158.65)"><tspan x="0.00 16.50 33.00 49.50 66.00">接入交换机</tspan></text>
<text class="ss" font-size="16.67" fill="#1a1a1a" transform="matrix(1.0326,0,0,0.9161,192.10,235.77)"><tspan x="0.00 10.18">ZC</tspan></text>
<text class="ss" font-size="16.5" fill="#484848" transform="matrix(1.0143,0,0,0.7477,158.52,252.32)"><tspan x="0.00 16.50 33.00 49.50 66.00">区域控制器</tspan></text>
<text class="ss" font-size="16.67" fill="#111" transform="matrix(1.0032,0,0,0.9242,687.66,235.92)"><tspan x="0.00 10.18 22.22 35.19 47.23 57.41 68.53 82.41 87.97 100.00 111.12 123.16">FRONTAM(DSU)</tspan></text>
<text class="ss" font-size="16.5" fill="#484848" transform="matrix(1.0121,0,0,0.8934,701.60,252.69)"><tspan x="0.00 16.50 33.00 49.50 66.00 82.50">数据存储单元</tspan></text>
<text class="ss" font-size="16.67" fill="#111" transform="matrix(1.0095,0,0,0.9166,382.23,365.40)"><tspan x="0.00 13.89 17.59 25.92 31.48 40.75 44.45 53.72 62.06 66.69 71.32">Microlok II</tspan></text>
<text class="sfb" font-size="16.5" fill="#111" transform="matrix(1.0009,0,0,0.8278,380.30,386.50)"><tspan x="0.00 16.50 33.00 49.50 66.00">联锁控制器</tspan></text>
<text class="ss" font-size="16.67" fill="#111" transform="matrix(1.0040,0,0,0.9172,609.26,362.45)"><tspan x="0.00 11.12 21.30 32.42 37.05 46.32 58.36">ATS/LCW</tspan></text>
<text class="sfb" font-size="16.5" fill="#111" transform="matrix(1.0107,0,0,0.8321,614.59,382.12)"><tspan x="0.00 16.50 33.00 49.50">现地控制</tspan></text>
<text class="sfb" font-size="16.5" fill="#111" transform="matrix(0.9750,0,0,0.8132,623.14,400.71)"><tspan x="0.00 16.50 33.00">工作站</tspan></text>
<text class="ss" font-size="16.67" fill="#484848" transform="matrix(0.9541,0,0,0.7941,811.88,308.64)"><tspan x="0.00 4.63" fill="#222">IP</tspan><tspan x="15.75 32.42 49.09">以太网</tspan></text>
<text class="ss" font-size="16.5" fill="#484848" transform="matrix(1.0023,0,0,0.9025,78.78,371.58)"><tspan x="0.00 16.50 33.00 49.50">车载无线</tspan></text>
<text class="ss" font-size="16.5" fill="#484848" transform="matrix(1.0004,0,0,0.8158,84.21,391.44)"><tspan x="0.00 16.50">接入</tspan><tspan x="33.00 44.01" fill="#1a1a1a">AP</tspan></text>
<text class="ss" font-size="16.5" fill="#484848" transform="matrix(0.9990,0,0,0.8655,192.20,366.51)"><tspan x="0.00 16.50 33.00 49.50">轨旁无线</tspan></text>
<text class="ss" font-size="16.5" fill="#484848" transform="matrix(1.0087,0,0,0.8178,197.40,386.79)"><tspan x="0.00 16.50">接入</tspan><tspan x="33.00 44.01" fill="#1a1a1a">AP</tspan></text>
<text class="ss" font-size="16" fill="#111" transform="matrix(1.0610,0,0,0.9973,99.74,462.41)"><tspan x="0.00 13.33">MR</tspan></text>
<text class="sfb" font-size="16.5" fill="#111" transform="matrix(0.9816,0,0,0.8088,66.54,480.55)"><tspan x="0.00 16.50 33.00 49.50 66.00">车载控制器</tspan></text>
<text class="ssb" font-size="15" fill="#000" transform="matrix(1.0701,0,0,0.9731,93.96,499.30)"><tspan x="0.00 10.83">CC</tspan></text>
<text class="ss" font-size="16.67" fill="#111" transform="matrix(0.9877,0,0,0.9889,362.99,481.38)"><tspan x="0.00 10.18 19.45 28.72">Tags</tspan></text>
<text class="ss" font-size="16.5" fill="#484848" transform="matrix(0.9835,0,0,0.8812,365.14,499.97)"><tspan x="0.00 16.50">信标</tspan></text>
<text class="sf" font-size="16" fill="#484848" transform="matrix(1.0462,0,0,0.8925,464.11,578.99)"><tspan x="0.00 16.00 32.00">信号机</tspan></text>
<text class="sf" font-size="16" fill="#484848" transform="matrix(0.9761,0,0,0.9007,530.78,578.51)"><tspan x="0.00 16.00">道岔</tspan></text>
<text class="sf" font-size="16" fill="#484848" transform="matrix(1.0123,0,0,0.9057,688.65,578.76)"><tspan x="0.00 16.00">计轴</tspan></text>
<text class="sf" font-size="16" fill="#484848" transform="matrix(0.9650,0,0,0.9148,784.06,579.05)"><tspan x="0.00 16.00">信标</tspan></text>
<text class="ss" font-size="17" fill="#000" stroke="#000" stroke-width="0.35" transform="matrix(0.9504,0,0,0.9484,197.72,178.33)"><tspan x="0.00">X</tspan></text>
<text class="ss" font-size="17" fill="#000" stroke="#000" stroke-width="0.35" transform="matrix(0.9533,0,0,0.9715,454.10,179.31)"><tspan x="0.00">X</tspan></text>
<text class="ss" font-size="17" fill="#000" stroke="#000" stroke-width="0.35" transform="matrix(0.9504,0,0,0.9484,746.72,178.33)"><tspan x="0.00">X</tspan></text>
<text class="ss" font-size="17" fill="#000" stroke="#000" stroke-width="0.35" transform="matrix(0.9098,0,0,0.9145,215.40,293.28)"><tspan x="0.00">X</tspan></text>
<text class="ss" font-size="17" fill="#000" stroke="#000" stroke-width="0.35" transform="matrix(0.9207,0,0,0.9157,412.75,293.46)"><tspan x="0.00">X</tspan></text>
<text class="ss" font-size="17" fill="#000" stroke="#000" stroke-width="0.35" transform="matrix(0.8955,0,0,0.9158,636.01,293.38)"><tspan x="0.00">X</tspan></text>
</svg>
</body></html>
